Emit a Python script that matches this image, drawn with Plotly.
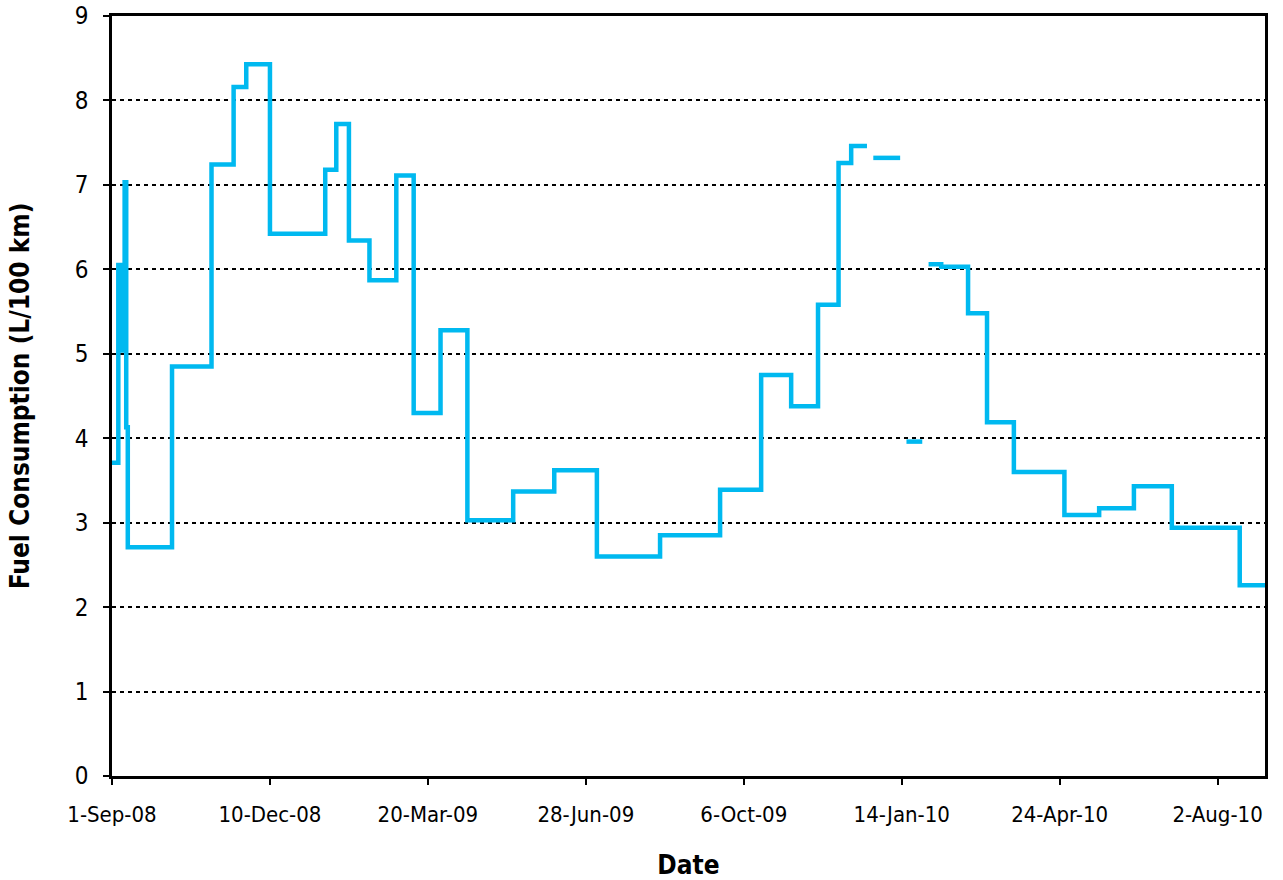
import plotly.graph_objects as go

# fill-up dates and fuel consumption (L/100 km) held until the next date;
# None marks a gap in the record
dates = [
    "2008-09-01", "2008-09-05", "2008-09-07", "2008-09-09", "2008-09-10",
    "2008-09-11", "2008-10-09", "2008-11-03", "2008-11-17", "2008-11-25",
    "2008-12-10", "2009-01-14", "2009-01-21", "2009-01-29", "2009-02-11",
    "2009-02-28", "2009-03-11", "2009-03-28", "2009-04-14", "2009-05-13",
    "2009-06-08", "2009-07-05", "2009-08-14", "2009-09-21", "2009-10-17",
    "2009-11-05", "2009-11-22", "2009-12-05", "2009-12-13", "2009-12-23",
    "2009-12-23", "2009-12-27", "2010-01-13", "2010-01-13", "2010-01-17",
    "2010-01-27", "2010-01-27", "2010-01-31", "2010-02-08", "2010-02-25",
    "2010-03-09", "2010-03-26", "2010-04-27", "2010-05-19", "2010-06-10",
    "2010-07-04", "2010-08-16", "2010-09-01",
]
consumption = [
    3.71, 6.05, 5.04, 7.03, 4.13,
    2.71, 4.85, 7.24, 8.16, 8.43,
    6.42, 7.18, 7.72, 6.34, 5.87,
    7.11, 4.30, 5.28, 3.03, 3.37,
    3.62, 2.60, 2.85, 3.39, 4.75,
    4.38, 5.58, 7.26, 7.46, 7.46,
    None, 7.32, 7.32, None, 3.96,
    3.96, None, 6.06, 6.03, 5.48,
    4.19, 3.60, 3.09, 3.17, 3.43,
    2.94, 2.26, 2.26,
]

y_ticks = list(range(0, 10))
x_range = ["2008-09-01", "2010-09-01"]
DAY_MS = 86400000

font_family = "'DejaVu Sans Condensed', 'Liberation Sans', sans-serif"

fig = go.Figure(
    data=go.Scatter(
        x=dates,
        y=consumption,
        mode="lines",
        line=dict(color="#00B9F0", width=4.5, shape="hv"),
        connectgaps=False,
        hoverinfo="x+y",
    )
)

fig.update_layout(
    width=1283,
    height=880,
    margin=dict(l=112, r=18, t=16, b=104),
    paper_bgcolor="white",
    plot_bgcolor="white",
    showlegend=False,
    font=dict(family=font_family, color="black", size=22),
)

fig.update_xaxes(
    type="date",
    range=x_range,
    tick0=x_range[0],
    dtick=100 * DAY_MS,
    tickformat="%-d-%b-%y",
    tickfont=dict(size=22),
    ticks="outside",
    ticklen=6,
    tickwidth=1.5,
    tickcolor="black",
    showgrid=False,
    showline=True,
    linecolor="black",
    linewidth=2.5,
    mirror=True,
    zeroline=False,
    automargin=False,
    ticklabelstandoff=11,
    title=dict(text="<b>Date</b>", font=dict(size=26), standoff=32),
)

fig.update_yaxes(
    range=[0, 9],
    tickvals=y_ticks,
    tickfont=dict(size=24),
    ticks="outside",
    ticklen=6,
    tickwidth=1.5,
    tickcolor="black",
    showgrid=True,
    gridcolor="black",
    gridwidth=1.5,
    griddash="4px,4px",
    showline=True,
    linecolor="black",
    linewidth=2.5,
    mirror=True,
    zeroline=False,
    automargin=False,
    ticklabelstandoff=10,
    title=dict(text="<b>Fuel Consumption (L/100 km)</b>", font=dict(size=26), standoff=38),
)

fig.write_html(
    "out.html",
    config={"displayModeBar": False},
    post_script="document.body.style.margin='0';document.body.style.overflow='hidden';",
)
